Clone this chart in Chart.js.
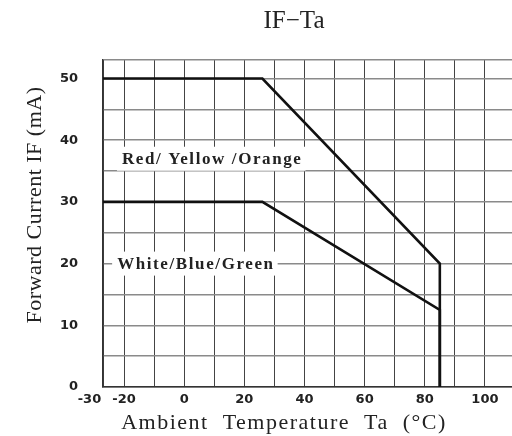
<!DOCTYPE html>
<html>
<head>
<meta charset="utf-8">
<script src="https://cdn.jsdelivr.net/npm/chart.js@4.4.1/dist/chart.umd.min.js"></script>
<style>
    html, body { margin: 0; padding: 0; background: #fff; }
    #wrap { width: 512px; height: 436px; }
</style>
</head>
<body>
<div id="wrap"><canvas id="ifChart"></canvas></div>
<script>
// valeurs
const redTemp = [-27, 26, 85, 85];
const redCurrent = [50, 50, 20, 0];
const whiteTemp = [-27, 26, 85, 85];
const whiteCurrent = [30, 30, 12.5, 0];
const seriesNames = ['Red/ Yellow /Orange', 'White/Blue/Green'];

const xTickValues = [-27, -20, -10, 0, 10, 20, 30, 40, 50, 60, 70, 80, 90, 100];
const xTickLabels = ['-30\u2007\u2007\u2007', '-20', '', '0', '', '20', '', '40', '', '60', '', '80', '', '100'];
const yTickValues = [0, 5, 10, 15, 20, 25, 30, 35, 40, 45, 50, 53];
const yTickLabels = ['0', '', '10', '', '20', '', '30', '', '40', '', '50', ''];

const serif = '"Liberation Serif", "DejaVu Serif", serif';
const tickFont = { family: '"DejaVu Sans", sans-serif', size: 13, weight: 'bold' };

function toPoints(xs, ys) {
    return xs.map((x, i) => ({ x: x, y: ys[i] }));
}

// textes : titre, axes et noms des courbes
const textPlugin = {
    id: 'textPlugin',
    beforeDatasetsDraw(chart) {
        const ctx = chart.ctx;
        const xs = chart.scales.x;
        const ys = chart.scales.y;
        const spots = [{ x: -20.7, y: 37 }, { x: -22.3, y: 20 }];
        ctx.save();
        ctx.font = 'bold 17px ' + serif;
        ctx.letterSpacing = '1.6px';
        ctx.textBaseline = 'middle';
        ctx.textAlign = 'left';
        seriesNames.forEach((name, i) => {
            const px = xs.getPixelForValue(spots[i].x);
            const py = ys.getPixelForValue(spots[i].y);
            const w = ctx.measureText(name).width;
            ctx.fillStyle = '#fff';
            ctx.fillRect(px - 5, py - 12, w + 8, 24);
            ctx.fillStyle = '#222';
            ctx.fillText(name, px, py + 1);
        });
        ctx.restore();
    },
    afterDraw(chart) {
        const ctx = chart.ctx;
        ctx.save();
        ctx.fillStyle = '#222';
        ctx.textAlign = 'center';
        ctx.textBaseline = 'middle';
        ctx.font = '25px ' + serif;
        ctx.fillText('IF\u2212Ta', 294, 21);
        ctx.font = '22px ' + serif;
        ctx.letterSpacing = '1.5px';
        ctx.fillText('Ambient  Temperature  Ta  (\u00b0C)', 284, 423);
        ctx.translate(35, 205);
        ctx.rotate(-Math.PI / 2);
        ctx.letterSpacing = '0.5px';
        ctx.fillText('Forward Current IF (mA)', 0, 0);
        ctx.restore();
    }
};

document.addEventListener('DOMContentLoaded', function() {
    const ctx = document.getElementById('ifChart').getContext('2d');
    new Chart(ctx, {
        type: 'line',
        data: {
            datasets: [{
                label: seriesNames[0],
                data: toPoints(redTemp, redCurrent),
                borderColor: '#111',
                borderWidth: 2.6,
                pointRadius: 0,
                tension: 0
            }, {
                label: seriesNames[1],
                data: toPoints(whiteTemp, whiteCurrent),
                borderColor: '#111',
                borderWidth: 2.6,
                pointRadius: 0,
                tension: 0
            }]
        },
        options: {
            responsive: true,
            maintainAspectRatio: false,
            animation: false,
            layout: { padding: { top: 60, left: 0, right: 0, bottom: 0 } },
            plugins: {
                legend: { display: false },
                tooltip: { enabled: false }
            },
            scales: {
                x: {
                    type: 'linear',
                    min: -27,
                    max: 109,
                    afterBuildTicks: s => { s.ticks = xTickValues.map(v => ({ value: v })); },
                    afterFit: s => { s.height = 49; },
                    grid: { color: '#444', lineWidth: 1, drawTicks: false },
                    border: { color: '#333', width: 1.5 },
                    ticks: {
                        autoSkip: false,
                        maxRotation: 0,
                        padding: 5,
                        color: '#222',
                        font: tickFont,
                        callback: v => xTickLabels[xTickValues.indexOf(v)]
                    }
                },
                y: {
                    min: 0,
                    max: 53,
                    afterBuildTicks: s => { s.ticks = yTickValues.map(v => ({ value: v })); },
                    afterFit: s => { s.width = 103; },
                    grid: { color: '#8a8a8a', lineWidth: 1.5, drawTicks: false },
                    border: { color: '#333', width: 1.5 },
                    ticks: {
                        padding: 25,
                        color: '#222',
                        font: tickFont,
                        callback: v => yTickLabels[yTickValues.indexOf(v)]
                    }
                }
            }
        },
        plugins: [textPlugin]
    });
});
</script>
</body>
</html>
